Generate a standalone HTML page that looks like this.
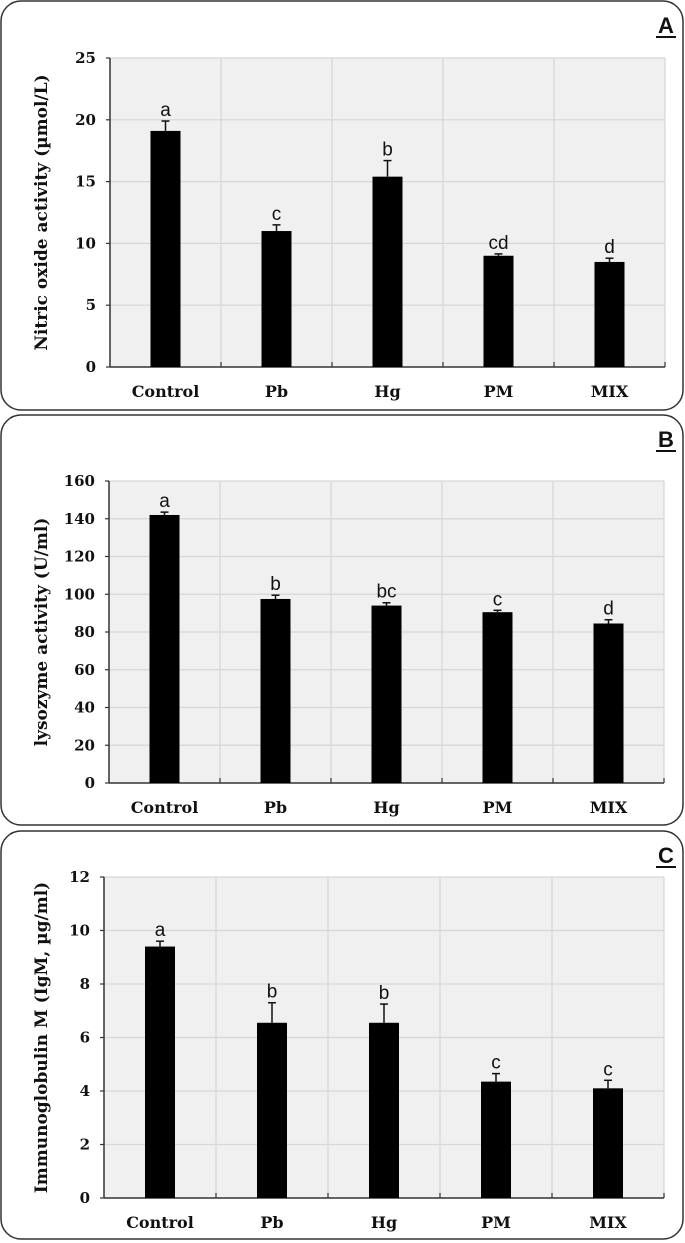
<!DOCTYPE html>
<html><head><meta charset="utf-8">
<style>
html,body{margin:0;padding:0;background:#fff;}
svg{display:block;}
.tick{font-family:"DejaVu Serif","Liberation Serif",serif;font-weight:bold;font-size:15px;fill:#111;}
.cat{font-family:"DejaVu Serif","Liberation Serif",serif;font-weight:bold;font-size:16px;fill:#111;}
.ytitle{font-family:"DejaVu Serif","Liberation Serif",serif;font-weight:bold;font-size:17px;fill:#111;}
.sig{font-family:"Liberation Sans",sans-serif;font-size:19px;fill:#111;}
.plab{font-family:"Liberation Sans",sans-serif;font-weight:bold;font-size:22px;fill:#111;}
</style></head>
<body>
<svg id="fig" width="685" height="1243" viewBox="0 0 685 1243" xmlns="http://www.w3.org/2000/svg"></svg>
<script>
const categories = ["Control","Pb","Hg","PM","MIX"];
const valuesA = [19.1, 11.0, 15.4, 9.0, 8.5];
const errorsA = [0.8, 0.5, 1.3, 0.15, 0.3];
const lettersA = ["a","c","b","cd","d"];
const ticksA = [0,5,10,15,20,25];
const valuesB = [142, 97.5, 94, 90.5, 84.5];
const errorsB = [1.5, 2, 1.5, 1, 2];
const lettersB = ["a","b","bc","c","d"];
const ticksB = [0,20,40,60,80,100,120,140,160];
const valuesC = [9.4, 6.55, 6.55, 4.35, 4.1];
const errorsC = [0.2, 0.75, 0.7, 0.3, 0.3];
const lettersC = ["a","b","b","c","c"];
const ticksC = [0,2,4,6,8,10,12];

const NS="http://www.w3.org/2000/svg";
const svg=document.getElementById('fig');
function mk(tag,attrs,parent){const e=document.createElementNS(NS,tag);for(const k in attrs)e.setAttribute(k,attrs[k]);(parent||svg).appendChild(e);return e;}

function panel(cfg){
  const g=mk('g',{});
  
  
  const box=mk('rect',{x:1,y:cfg.by0,width:682,height:cfg.by1-cfg.by0,rx:20,ry:20,fill:'#fff',stroke:'#333','stroke-width':1.5},g);
  
  
  const lab=mk('text',{x:666,y:cfg.by0+32,'text-anchor':'middle',class:'plab'},g);
  lab.textContent=cfg.label;
  
  
  mk('line',{x1:656,x2:676,y1:cfg.by0+36,y2:cfg.by0+36,stroke:'#111','stroke-width':2},g);
  const x0=cfg.x0,x1=cfg.x1,yT=cfg.yT,yB=cfg.yB,max=cfg.ticks[cfg.ticks.length-1];
  const bw=(x1-x0)/categories.length;
  const ys=v=>yB-(v/max)*(yB-yT);
  const xc=i=>x0+bw*(i+0.5);
  const bg=mk('rect',{x:x0,y:yT,width:x1-x0,height:yB-yT,fill:'#f0f0f0'},g);
  
  
  cfg.ticks.forEach(t=>{
    if(t>0){const gl=mk('line',{x1:x0,x2:x1,y1:ys(t),y2:ys(t),stroke:'#d6d6d6','stroke-width':1.2},g);
      }
    mk('line',{x1:x0-4,x2:x0,y1:ys(t),y2:ys(t),stroke:'#333','stroke-width':1.2},g);
    const tl=mk('text',{x:x0-14,y:ys(t)+5,'text-anchor':'end',class:'tick'},g);
    tl.textContent=t;
    
    
  });
  for(let i=1;i<=categories.length;i++){
    mk('line',{x1:x0+bw*i,x2:x0+bw*i,y1:yT,y2:yB,stroke:'#d6d6d6','stroke-width':1.2},g);
    mk('line',{x1:x0+bw*i,x2:x0+bw*i,y1:yB,y2:yB-5,stroke:'#333','stroke-width':1.2},g);
  }
  mk('line',{x1:x0,x2:x0,y1:yT,y2:yB,stroke:'#333','stroke-width':1.5},g);
  mk('line',{x1:x0,x2:x1,y1:yB,y2:yB,stroke:'#333','stroke-width':1.5},g);
  categories.forEach((c,i)=>{
    const v=cfg.values[i],e=cfg.errors[i];
    const cx=xc(i);
    mk('line',{x1:cx,x2:cx,y1:ys(v),y2:ys(v+e),stroke:'#111','stroke-width':1.5},g);
    mk('line',{x1:cx-4,x2:cx+4,y1:ys(v+e),y2:ys(v+e),stroke:'#111','stroke-width':1.5},g);
    const b=mk('rect',{x:cx-15,y:ys(v),width:30,height:yB-ys(v),fill:'#000'},g);
    
    
    const s=mk('text',{x:cx,y:ys(v+e)-5,'text-anchor':'middle',class:'sig'},g);
    s.textContent=cfg.letters[i];
    
    
    const cl=mk('text',{x:cx,y:yB+30,'text-anchor':'middle',class:'cat'},g);
    cl.textContent=c;
    
    
  });
  const yt=mk('text',{x:0,y:0,'text-anchor':'middle',class:'ytitle',transform:`translate(${cfg.tx},${(yT+yB)/2}) rotate(-90)`},g);
  yt.textContent=cfg.title;
  
  
}
panel({label:'A',by0:1,by1:410,x0:110,x1:665,yT:58,yB:367,ticks:ticksA,values:valuesA,errors:errorsA,letters:lettersA,title:'Nitric oxide activity (µmol/L)',tx:47});
panel({label:'B',by0:415,by1:825,x0:109,x1:664,yT:481,yB:783,ticks:ticksB,values:valuesB,errors:errorsB,letters:lettersB,title:'lysozyme activity (U/ml)',tx:47});
panel({label:'C',by0:831,by1:1239,x0:104,x1:664,yT:877,yB:1198,ticks:ticksC,values:valuesC,errors:errorsC,letters:lettersC,title:'Immunoglobulin M (IgM, µg/ml)',tx:47});
</script>
</body></html>
